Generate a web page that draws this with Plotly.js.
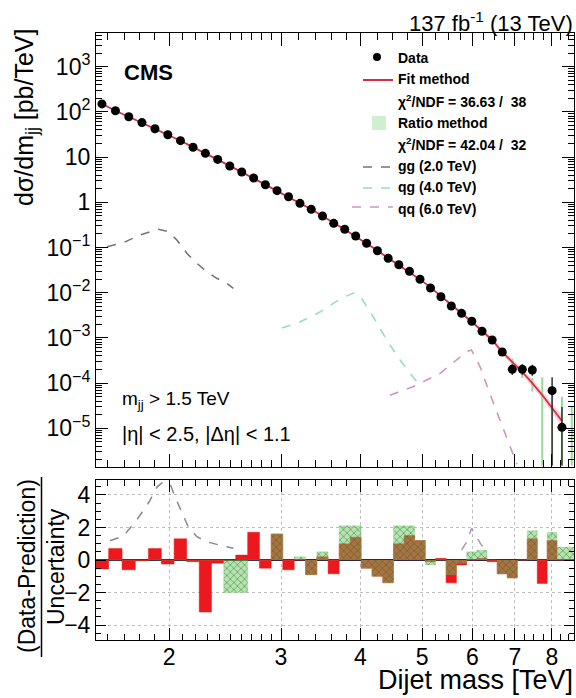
<!DOCTYPE html>
<html><head><meta charset="utf-8">
<script src="https://cdn.plot.ly/plotly-3.0.1.min.js"></script>
<style>body{margin:0;background:#fff}#chart{width:576px;height:698px}</style>
</head><body><div id="chart"></div>
<script>
// ---------- data (TeV, pb/TeV) ----------
const binEdges = [1.530,1.607,1.687,1.770,1.856,1.945,2.037,2.132,2.231,2.332,2.438,2.546,2.659,2.775,2.895,3.019,3.147,3.279,3.416,3.558,3.704,3.854,4.010,4.171,4.337,4.509,4.686,4.869,5.058,5.253,5.455,5.663,5.877,6.099,6.328,6.564,6.808,7.060,7.320,7.589,7.866,8.152,8.447,8.752];
const dataVals = [150,106,78,58,42.5,31.3,23.1,16.5,12.1,8.9,6.35,4.68,3.45,2.45,1.81,1.33,0.95,0.70,0.498,0.343,0.253,0.180,0.124,0.0849,0.0577,0.0416,0.0297,0.0198,0.0127,0.00816,0.00508,0.0035,0.00233,0.0014,0.0009,0.000488,0.000202,0.000202,0.000195,null,6.8e-5,1.05e-5,null];
const dataErrHi = [0,0,0,0,0,0,0,0,0,0,0,0,0,0,0,0,0,0,0,0,0,0,0,0,0,0,0,0,0,0,0,0,0,0,0,6e-5,6e-5,6e-5,6e-5,0,6.7e-5,1.9e-5,0];
const dataErrLo = [0,0,0,0,0,0,0,0,0,0,0,0,0,0,0,0,0,0,0,0,0,0,0,0,0,0,0,0,0,0,0,0,0,0,0,5.5e-5,5e-5,5e-5,5e-5,0,6.65e-5,0.9e-5,0];
const fitVals = [151,106,78,57.5,42.5,31.5,23,16.6,12.2,8.9,6.4,4.66,3.4,2.46,1.79,1.32,0.955,0.70,0.50,0.35,0.25,0.176,0.124,0.0855,0.0585,0.041,0.029,0.0197,0.0131,0.0083,0.0053,0.0035,0.00228,0.00143,0.0009,0.000488,0.000293,0.000176,0.0001,5.46e-5,2.81e-5,1.45e-5];
// fit uncertainty band, bins 30..42
const fitBandFirstBin = 30;
const fitBandHi = [0.0088,0.0057,0.0038,0.0025,0.00158,0.001,0.00055,0.00034,0.000208,0.00012,6.7e-5,3.6e-5,1.95e-5];
const fitBandLo = [0.0078,0.0049,0.0032,0.0021,0.0013,0.00081,0.00043,0.000253,0.000149,8.3e-5,4.45e-5,2.2e-5,1.08e-5];
// ratio method prediction, bins 30..43
const ratioFirstBin = 30;
const ratioVals = [0.0082,0.0052,0.0035,0.0023,0.00142,0.0009,0.00052,0.00029,0.000175,0.0001,6.0e-5,3.5e-5,1.8e-5,9e-6];
const ratioHi   = [0.0093,0.0059,0.004,0.0026,0.0016,0.00104,0.0006,0.00035,0.00022,0.00013,1.35e-4,8e-5,5e-5,3e-5];
const ratioLo   = [0.0072,0.0045,0.003,0.002,0.00122,0.00076,0.00044,0.00023,0.00013,6.5e-5,1.5e-6,1.5e-6,1.5e-6,1.5e-6];
// signal shapes (top panel)
const ggMass = [1.598,1.695,1.800,1.924,1.995,2.057,2.133,2.212,2.293,2.377,2.464,2.524];
const ggVal  = [0.104,0.128,0.189,0.253,0.224,0.147,0.0744,0.0447,0.0292,0.0208,0.0162,0.0125];
const qgMass = [3.01,3.21,3.455,3.65,3.80,3.90,4.00,4.19,4.40,4.62,4.84,4.93];
const qgVal  = [1.65e-3,2.24e-3,3.74e-3,6.2e-3,8.4e-3,9.8e-3,8.2e-3,2.9e-3,9e-4,3.2e-4,1.36e-4,1.0e-4];
const qqMass = [4.45,4.84,5.34,5.67,5.88,5.98,6.17,6.39,6.63,6.87,7.05];
const qqVal  = [5.4e-5,8.3e-5,1.65e-4,3.2e-4,5.0e-4,5.4e-4,2.3e-4,5.9e-5,1.5e-5,3.9e-6,1.6e-6];
// bottom panel: (data-prediction)/uncertainty per bin
const pullFit   = [-0.55,0.7,-0.6,-0.05,0.7,-0.25,1.3,-0.1,-3.2,-0.2,0,0.3,1.7,-0.5,1.6,-0.6,0,-0.9,0.2,-0.85,1.0,1.4,-0.5,-1.0,-1.4,1.0,1.5,1.2,-0.1,0.1,-1.4,-0.3,0,0.1,-0.1,-0.85,-1.1,0,1.3,-1.45,1.2,0,0];
const pullRatio = [0,0,0,0,0,0,0,0,0,0,-2.0,-2.0,0,0,1.6,0,0.2,-0.9,0.5,0,2.1,2.1,-0.5,-1.0,-1.4,2.1,2.1,1.2,-0.3,0,-0.9,-0.2,0.5,0.6,0,-0.8,-1.1,0,1.8,0,1.7,0.8,0.8];
const ggPullMass = [1.615,1.695,1.778,1.861,1.915,1.948,2.007,2.044,2.093,2.144,2.212,2.293,2.434,2.524];
const ggPullVal  = [1.18,1.47,2.45,3.58,4.5,4.74,4.7,3.88,2.96,2.04,1.43,1.12,0.86,0.72];
const qqPullMass = [5.77,5.88,5.98,6.09,6.20,6.35];
const qqPullVal  = [0.61,1.12,1.94,1.43,0.92,0.61];
// ticks
const xTickVals = [2,3,4,5,6,7,8];
const xTickText = ['2','3','4','5','6','7','8'];
const xMinorTicks = [1.6,1.7,1.8,1.9,2.1,2.2,2.3,2.4,2.5,2.6,2.7,2.8,2.9,3.2,3.4,3.6,3.8,4.25,4.5,4.75,5.25,5.5,5.75,6.25,6.5,6.75,7.25,7.5,7.75,8.25,8.5];
const yTickVals = [1e3,1e2,10,1,0.1,1e-2,1e-3,1e-4,1e-5];
const yTickText = ['10<sup>3</sup>','10<sup>2</sup>','10','1','10<sup>\u22121</sup>','10<sup>\u22122</sup>','10<sup>\u22123</sup>','10<sup>\u22124</sup>','10<sup>\u22125</sup>'];
const y2TickVals = [-4,-2,0,2,4];

// ---------- geometry helpers ----------
const L=96, R=574, T=33, B=640, W=R-L, H=B-T;
const xp = px => (px-L)/W, yp = py => (B-py)/H;
const FONT = 'Liberation Sans, Arial, Helvetica, sans-serif';

const centers = binEdges.slice(0,-1).map((e,i)=>0.5*(e+binEdges[i+1]));
const stepY = arr => arr.concat([arr[arr.length-1]]);

const traces = [];
// fit band
const fbx = centers.slice(fitBandFirstBin-1, fitBandFirstBin-1+fitBandHi.length);
traces.push({x:fbx, y:fitBandLo, mode:'lines', line:{width:0}, hoverinfo:'skip', xaxis:'x', yaxis:'y'});
traces.push({x:fbx, y:fitBandHi, mode:'lines', line:{width:0}, fill:'tonexty', fillcolor:'rgba(250,160,175,0.45)', hoverinfo:'skip', xaxis:'x', yaxis:'y'});
// ratio method
const rx = centers.slice(ratioFirstBin-1, ratioFirstBin-1+ratioVals.length);
traces.push({x:rx, y:ratioVals, mode:'lines', line:{width:0, color:'rgba(0,0,0,0)'},
  error_y:{type:'data', symmetric:false, array:ratioHi.map((h,i)=>h-ratioVals[i]), arrayminus:ratioVals.map((v,i)=>v-ratioLo[i]), color:'rgb(150,220,150)', thickness:2, width:0},
  xaxis:'x', yaxis:'y'});
// fit line
traces.push({x:centers.slice(0,fitVals.length), y:fitVals, mode:'lines', line:{color:'rgb(215,45,70)', width:1.8}, xaxis:'x', yaxis:'y'});
// signals
traces.push({x:ggMass, y:ggVal, mode:'lines', line:{color:'rgb(115,115,125)', width:1.6, dash:'dash'}, xaxis:'x', yaxis:'y'});
traces.push({x:qgMass, y:qgVal, mode:'lines', line:{color:'rgb(150,220,205)', width:1.6, dash:'dash'}, xaxis:'x', yaxis:'y'});
traces.push({x:qqMass, y:qqVal, mode:'lines', line:{color:'rgb(205,150,200)', width:1.6, dash:'dash'}, xaxis:'x', yaxis:'y'});
// data
traces.push({x:centers, y:dataVals, mode:'markers', marker:{color:'black', size:9},
  error_y:{type:'data', symmetric:false, array:dataErrHi, arrayminus:dataErrLo, color:'rgb(50,50,50)', thickness:1.5, width:0},
  xaxis:'x', yaxis:'y'});
// bottom: pulls
traces.push({x:binEdges, y:stepY(pullFit), mode:'lines', line:{shape:'hv', width:0.5, color:'rgb(235,25,30)'}, fill:'tozeroy', fillcolor:'rgb(235,25,30)', xaxis:'x2', yaxis:'y2'});
traces.push({x:binEdges, y:stepY(pullRatio), mode:'lines', line:{shape:'hv', width:0.5, color:'rgba(110,200,100,0.5)'}, fill:'tozeroy', fillcolor:'rgba(110,200,100,0.5)',
  fillpattern:{shape:'x', fgcolor:'rgba(40,110,40,0.55)', bgcolor:'rgba(110,200,100,0.5)', size:5, solidity:0.3}, xaxis:'x2', yaxis:'y2'});
traces.push({x:ggPullMass, y:ggPullVal, mode:'lines', line:{color:'rgb(135,135,150)', width:1.5, dash:'dash'}, xaxis:'x2', yaxis:'y2'});
traces.push({x:qqPullMass, y:qqPullVal, mode:'lines', line:{color:'rgb(170,150,185)', width:1.5, dash:'dash'}, xaxis:'x2', yaxis:'y2'});

const xr = [Math.log10(1.535), Math.log10(8.67)];
const axCommon = {showline:true, linecolor:'black', linewidth:1, mirror:'allticks', ticks:'inside', tickcolor:'black', tickwidth:1, zeroline:false};
const tickFont = {family:FONT, size:23, color:'black'};

const layout = {
  width:576, height:698, margin:{l:L, r:576-R, t:T, b:698-B, pad:0},
  paper_bgcolor:'white', plot_bgcolor:'white', showlegend:false,
  font:{family:FONT, color:'black'},
  xaxis:Object.assign({}, axCommon, {type:'log', range:xr, domain:[0,1], anchor:'y', tickmode:'array', tickvals:xTickVals, ticklen:13, showticklabels:false, showgrid:false,
    minor:{tickmode:'array', tickvals:xMinorTicks, ticks:'inside', ticklen:7, tickcolor:'black', showgrid:false}}),
  yaxis:Object.assign({}, axCommon, {type:'log', range:[-5.856, 3.7456], domain:[yp(467),1], anchor:'x', tickmode:'array', tickvals:yTickVals, ticktext:yTickText, ticklen:12, tickfont:tickFont, showgrid:false,
    minor:{dtick:'D1', ticks:'inside', ticklen:6, tickcolor:'black', showgrid:false}}),
  xaxis2:Object.assign({}, axCommon, {type:'log', range:xr, domain:[0,1], anchor:'y2', tickmode:'array', tickvals:xTickVals, ticktext:xTickText, ticklen:12, tickfont:tickFont, ticklabelstandoff:-4,
    showgrid:true, gridcolor:'rgb(190,190,190)', griddash:'dot', gridwidth:1,
    minor:{tickmode:'array', tickvals:xMinorTicks, ticks:'inside', ticklen:6, tickcolor:'black', showgrid:false}}),
  yaxis2:Object.assign({}, axCommon, {range:[-4.92,4.92], domain:[0,yp(480)], anchor:'x2', tickmode:'array', tickvals:y2TickVals, ticklen:10, tickfont:tickFont,
    showgrid:true, gridcolor:'rgb(190,190,190)', griddash:'dot', gridwidth:1, zeroline:true, zerolinecolor:'rgb(50,40,60)', zerolinewidth:1.5,
    minor:{dtick:0.5, ticks:'inside', ticklen:5, tickcolor:'black', showgrid:false}}),
  annotations:[
    {text:'137 fb<sup>-1</sup> (13 TeV)', xref:'paper', yref:'paper', x:xp(575), y:yp(22), xanchor:'right', yanchor:'middle', showarrow:false, font:{family:FONT, size:22}},
    {text:'<b>CMS</b>', xref:'paper', yref:'paper', x:xp(122), y:yp(72), xanchor:'left', yanchor:'middle', showarrow:false, font:{family:FONT, size:22}},
    {text:'m<sub>jj</sub> &gt; 1.5 TeV', xref:'paper', yref:'paper', x:xp(120), y:yp(400), xanchor:'left', yanchor:'middle', showarrow:false, font:{family:FONT, size:19}},
    {text:'|\u03b7| &lt; 2.5, |\u0394\u03b7| &lt; 1.1', xref:'paper', yref:'paper', x:xp(120), y:yp(434), xanchor:'left', yanchor:'middle', showarrow:false, font:{family:FONT, size:20}},
    {text:'d\u03c3/dm<sub>jj</sub> [pb/TeV]', xref:'paper', yref:'paper', x:xp(26), y:yp(118), xanchor:'center', yanchor:'middle', textangle:-90, showarrow:false, font:{family:FONT, size:25}},
    {text:'(Data-Prediction)', xref:'paper', yref:'paper', x:xp(27), y:yp(566), xanchor:'center', yanchor:'middle', textangle:-90, showarrow:false, font:{family:FONT, size:23}},
    {text:'Uncertainty', xref:'paper', yref:'paper', x:xp(56), y:yp(567), xanchor:'center', yanchor:'middle', textangle:-90, showarrow:false, font:{family:FONT, size:23}},
    {text:'Dijet mass [TeV]', xref:'paper', yref:'paper', x:xp(574), y:yp(680), xanchor:'right', yanchor:'middle', showarrow:false, borderpad:0, font:{family:FONT, size:27}},
    // legend text
    {text:'<b>Data</b>', xref:'paper', yref:'paper', x:xp(396), y:yp(58), xanchor:'left', yanchor:'middle', showarrow:false, font:{family:FONT, size:14}},
    {text:'<b>Fit method</b>', xref:'paper', yref:'paper', x:xp(396), y:yp(79), xanchor:'left', yanchor:'middle', showarrow:false, font:{family:FONT, size:14}},
    {text:'<b>\u03c7<sup>2</sup>/NDF = 36.63 /\u00a0 38</b>', xref:'paper', yref:'paper', x:xp(396), y:yp(101), xanchor:'left', yanchor:'middle', showarrow:false, font:{family:FONT, size:14}},
    {text:'<b>Ratio method</b>', xref:'paper', yref:'paper', x:xp(396), y:yp(122.5), xanchor:'left', yanchor:'middle', showarrow:false, font:{family:FONT, size:14}},
    {text:'<b>\u03c7<sup>2</sup>/NDF = 42.04 /\u00a0 32</b>', xref:'paper', yref:'paper', x:xp(396), y:yp(144), xanchor:'left', yanchor:'middle', showarrow:false, font:{family:FONT, size:14}},
    {text:'<b>gg (2.0 TeV)</b>', xref:'paper', yref:'paper', x:xp(396), y:yp(165.5), xanchor:'left', yanchor:'middle', showarrow:false, font:{family:FONT, size:14}},
    {text:'<b>qg (4.0 TeV)</b>', xref:'paper', yref:'paper', x:xp(396), y:yp(187), xanchor:'left', yanchor:'middle', showarrow:false, font:{family:FONT, size:14}},
    {text:'<b>qq (6.0 TeV)</b>', xref:'paper', yref:'paper', x:xp(396), y:yp(208.5), xanchor:'left', yanchor:'middle', showarrow:false, font:{family:FONT, size:14}}
  ],
  shapes:[
    {type:'circle', xref:'paper', yref:'paper', x0:xp(373), x1:xp(381), y0:yp(61), y1:yp(53), fillcolor:'black', line:{width:0}},
    {type:'line', xref:'paper', yref:'paper', x0:xp(363), x1:xp(393), y0:yp(80), y1:yp(80), line:{color:'rgb(215,45,70)', width:2}},
    {type:'rect', xref:'paper', yref:'paper', x0:xp(372), x1:xp(386), y0:yp(130), y1:yp(116), fillcolor:'rgba(170,225,170,0.55)', line:{width:0}},
    {type:'line', xref:'paper', yref:'paper', x0:xp(363), x1:xp(393), y0:yp(167), y1:yp(167), line:{color:'rgb(115,115,125)', width:1.6, dash:'dash'}},
    {type:'line', xref:'paper', yref:'paper', x0:xp(363), x1:xp(393), y0:yp(188), y1:yp(188), line:{color:'rgb(150,220,205)', width:1.6, dash:'dash'}},
    {type:'line', xref:'paper', yref:'paper', x0:xp(352), x1:xp(393), y0:yp(207), y1:yp(207), line:{color:'rgb(205,150,200)', width:1.6, dash:'dash'}},
    {type:'line', xref:'paper', yref:'paper', x0:xp(41.5), x1:xp(41.5), y0:yp(477), y1:yp(657), line:{color:'black', width:1.5}}
  ]
};
Plotly.newPlot('chart', traces, layout, {displayModeBar:false, staticPlot:true});
</script></body></html>
